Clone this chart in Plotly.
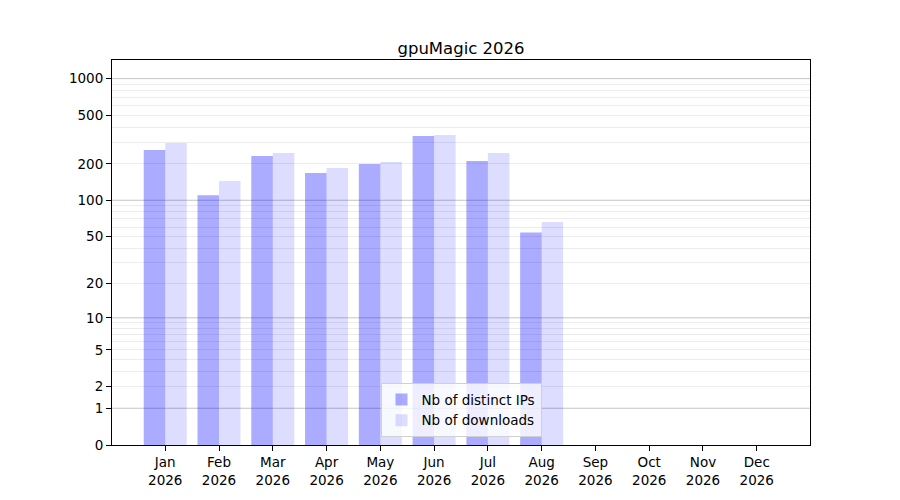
import math
import plotly.graph_objects as go

# monthly stats
months = ["Jan", "Feb", "Mar", "Apr", "May", "Jun", "Jul", "Aug", "Sep", "Oct", "Nov", "Dec"]
year = 2026
distinct_ips = [260, 110, 232, 168, 199, 338, 211, 54, 0, 0, 0, 0]
downloads = [297, 144, 245, 185, 207, 345, 245, 66, 0, 0, 0, 0]
y_tick_values = [0, 1, 2, 5, 10, 20, 50, 100, 200, 500, 1000]
major_grid = [1, 10, 100, 1000]
minor_grid = [m * 10 ** k for k in range(3) for m in range(2, 10)]


def f(v):
    # the y scale is log10(1 + v)
    return math.log10(1 + v)


xs = list(range(len(months)))
FONT = "DejaVu Sans"

fig = go.Figure()
fig.add_trace(go.Bar(
    x=xs, y=[f(v) for v in distinct_ips], name="Nb of distinct IPs",
    marker=dict(color="rgba(0,0,255,0.33)", line=dict(width=0)),
    offset=-0.4, width=0.4,
))
fig.add_trace(go.Bar(
    x=xs, y=[f(v) for v in downloads], name="Nb of downloads",
    marker=dict(color="rgba(0,0,255,0.135)", line=dict(width=0)),
    offset=0.0, width=0.4,
))

for g in major_grid:
    fig.add_shape(type="line", xref="paper", yref="y", x0=0, x1=1, y0=f(g), y1=f(g),
                  line=dict(color="#c4c4c4", width=1), layer="below")

# the page body adds 8px, so margins are shifted by that much
fig.update_layout(
    width=900, height=500,
    margin=dict(l=104, r=98, t=52, b=63, autoexpand=False),
    paper_bgcolor="white", plot_bgcolor="white",
    font=dict(family=FONT, size=13.5, color="black"),
    title=dict(text="gpuMagic 2026", x=0.5, xref="paper", xanchor="center",
               y=1, yref="paper", yanchor="bottom", pad=dict(b=6),
               font=dict(family=FONT, size=16.5, color="black")),
    showlegend=True,
    legend=dict(x=0.5, xanchor="center", y=0.02, yanchor="bottom",
                bgcolor="rgba(255,255,255,0.8)", bordercolor="#d0d0d0", borderwidth=1,
                font=dict(family=FONT, size=13.5), tracegroupgap=0),
    barmode="overlay",
)
fig.update_xaxes(
    range=[-0.99, 11.99], tickmode="array", tickvals=xs,
    ticktext=[f"{m}<br>{year}" for m in months],
    showgrid=False, zeroline=False, showline=True, mirror=True,
    linecolor="black", linewidth=1, ticks="outside", ticklen=5, tickcolor="black",
)
fig.update_yaxes(
    range=[0, 3.153], tickmode="array", tickvals=[f(v) for v in y_tick_values],
    ticktext=[str(v) for v in y_tick_values],
    showgrid=False, zeroline=False, showline=True, mirror=True,
    linecolor="black", linewidth=1, ticks="outside", ticklen=5, tickcolor="black",
    minor=dict(tickmode="array", tickvals=[f(v) for v in minor_grid], showgrid=True,
               gridcolor="#ececec", gridwidth=1, ticks=""),
)

fig.write_html("out.html")
